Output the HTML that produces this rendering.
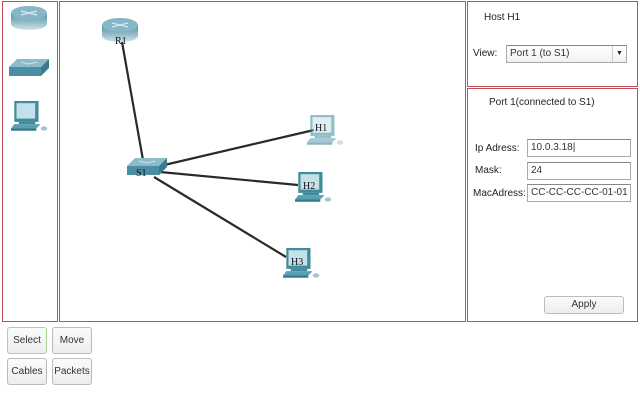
<!DOCTYPE html>
<html><head><meta charset="utf-8">
<style>
*{margin:0;padding:0;box-sizing:border-box}
body{width:640px;height:402px;background:#fff;position:relative;overflow:hidden;font-family:"Liberation Sans",sans-serif;font-size:10px;color:#222}
.p{position:absolute;border:1px solid #c0505a}
.t{position:absolute;white-space:nowrap}
.in{position:absolute;border:1px solid #aaa;border-top-color:#888;background:#fff;padding-left:3px;font-size:10px;line-height:16px;color:#333}
.btn{position:absolute;border:1px solid #bbb;border-radius:3px;background:linear-gradient(#fbfbfb,#eceeee);text-align:center;font-size:10px;color:#333}
</style></head><body>
<div class="p" style="left:2px;top:1px;width:56px;height:321px"></div>
<div class="p" style="left:59px;top:1px;width:407px;height:321px"></div>
<div class="p" style="left:467px;top:1px;width:171px;height:86px"></div>
<div class="p" style="left:467px;top:88px;width:171px;height:234px"></div>

<svg width="640" height="402" style="position:absolute;left:0;top:0">
<defs>
<linearGradient id="rg" x1="0" y1="0" x2="0" y2="1"><stop offset="0" stop-color="#4f8ea2"/><stop offset="1" stop-color="#d0e2e8"/></linearGradient>
<g id="router">
<path d="M0 7 V18 A18 6 0 0 0 36 18 V7 Z" fill="url(#rg)"/>
<ellipse cx="18" cy="7" rx="18" ry="7" fill="#86b7c6"/>
<path d="M10 5 L26 9 M26 5 L10 9" stroke="#d6eaf0" stroke-width="1.2"/>
</g>
<g id="switch">
<path d="M8 0 H40 L32 8 H0 Z" fill="#8cbccb"/>
<path d="M0 8 H32 V17 H0 Z" fill="#4b8ea4"/>
<path d="M32 8 L40 0 V9 L32 17 Z" fill="#3a7a8e"/>
<path d="M12 3 L20 5 M28 3 L20 5" stroke="#cfe6ee" stroke-width="1"/>
</g>
<g id="pc">
<rect x="3" y="0" width="22" height="19" fill="#3f8c9c"/>
<rect x="5" y="2" width="17" height="14" fill="#c4e1ea"/>
<path d="M7 19 H22 V21 H7 Z" fill="#3f8c9c"/>
<path d="M3 21 H27 L23 25 H0 Z" fill="#5aa0b0"/>
<path d="M0 25 H23 V27 H0 Z" fill="#36788a"/>
<ellipse cx="30" cy="25" rx="3" ry="2" fill="#a8c6cf"/>
</g>
</defs>
<use href="#router" x="11" y="6"/>
<use href="#switch" x="9" y="59"/>
<g transform="translate(11,101) scale(1.1)"><use href="#pc"/></g>
<g stroke="#2a2a2a" stroke-width="2.2">
<line x1="122" y1="42" x2="143" y2="160"/>
<line x1="160" y1="166" x2="314" y2="130"/>
<line x1="160" y1="172" x2="298" y2="185"/>
<line x1="154" y1="177" x2="286" y2="257"/>
</g>
<use href="#router" x="102" y="18"/>
<use href="#switch" x="127" y="158"/>
<g opacity="0.55" transform="translate(307,115) scale(1.1)"><use href="#pc"/></g>
<g transform="translate(295,172) scale(1.1)"><use href="#pc"/></g>
<g transform="translate(283,248) scale(1.1)"><use href="#pc"/></g>
<g font-family="Liberation Serif,serif" font-size="10" fill="#111">
<text x="115" y="44">R1</text>
<text x="136" y="176">S1</text>
<text x="315" y="131">H1</text>
<text x="303" y="189">H2</text>
<text x="291" y="265">H3</text>
</g>
</svg>

<div class="t" style="left:484px;top:12px">Host H1</div>
<div class="t" style="left:473px;top:48px">View:</div>
<div class="in" style="left:506px;top:45px;width:121px;height:18px;background:linear-gradient(#fff,#f1f1f1)">Port 1 (to S1)</div>
<div style="position:absolute;left:612px;top:46px;width:14px;height:16px;border-left:1px solid #ccc;font-size:7px;text-align:center;line-height:16px">▼</div>

<div class="t" style="left:489px;top:97px">Port 1(connected to S1)</div>
<div class="t" style="left:475px;top:143px">Ip Adress:</div>
<div class="t" style="left:475px;top:165px">Mask:</div>
<div class="t" style="left:473px;top:188px">MacAdress:</div>
<div class="in" style="left:527px;top:139px;width:104px;height:18px">10.0.3.18|</div>
<div class="in" style="left:527px;top:162px;width:104px;height:18px">24</div>
<div class="in" style="left:527px;top:184px;width:104px;height:18px">CC-CC-CC-CC-01-01</div>

<div class="btn" style="left:544px;top:296px;width:80px;height:18px;line-height:16px">Apply</div>

<div class="btn" style="left:7px;top:327px;width:40px;height:27px;line-height:25px;border-color:#a8d598">Select</div>
<div class="btn" style="left:52px;top:327px;width:40px;height:27px;line-height:25px">Move</div>
<div class="btn" style="left:7px;top:358px;width:40px;height:27px;line-height:25px">Cables</div>
<div class="btn" style="left:52px;top:358px;width:40px;height:27px;line-height:25px">Packets</div>
</body></html>
